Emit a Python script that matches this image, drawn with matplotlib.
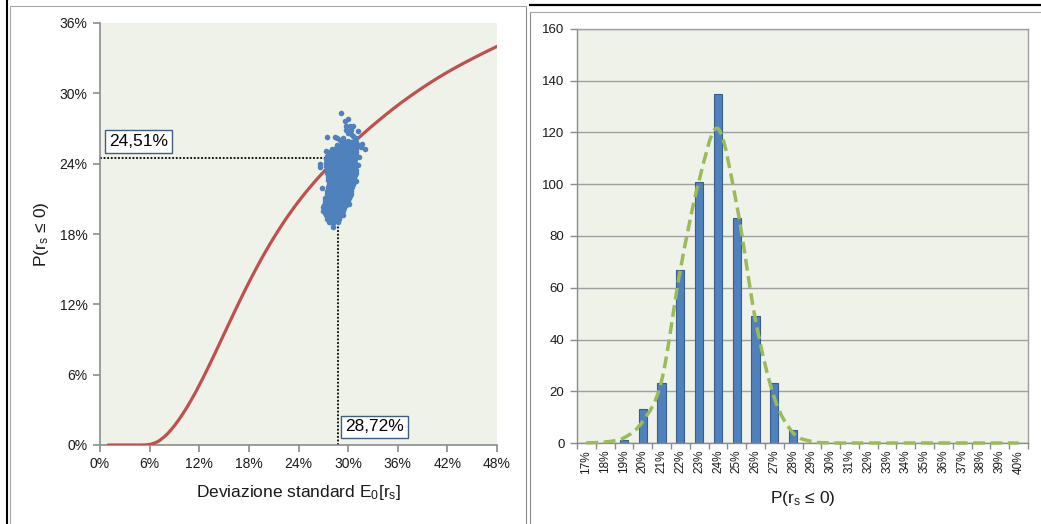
import matplotlib
matplotlib.use("Agg")
import matplotlib.pyplot as plt
from matplotlib.path import Path
from matplotlib.patches import PathPatch
from matplotlib.lines import Line2D
from matplotlib.ticker import FuncFormatter, MultipleLocator

plt.rcParams["font.family"] = ["Liberation Sans", "DejaVu Sans"]
plt.rcParams["mathtext.fontset"] = "custom"
plt.rcParams["mathtext.rm"] = "Liberation Sans"
plt.rcParams["mathtext.it"] = "Liberation Sans:italic"

# ---------------- data ----------------
# probability of a non-positive return vs. standard deviation (both in %)
sigma_pct = [1, 2, 3, 4, 5, 6, 7, 8, 9, 10, 11, 12, 13, 14, 15, 16, 17, 18, 19, 20,
             21, 22, 23, 24, 25, 26, 27, 28, 29, 30, 31, 32, 33, 34, 35, 36, 37, 38,
             39, 40, 41, 42, 43, 44, 45, 46, 47, 48]
prob_pct = [0.0, 0.0, 0.0, 0.0, 0.0, 0.05, 0.3, 0.85, 1.65, 2.65, 3.8, 5.1, 6.5, 7.97,
            9.47, 10.97, 12.44, 13.86, 15.21, 16.48, 17.67, 18.78, 19.81, 20.77,
            21.66, 22.49, 23.27, 24.0, 24.69, 25.37, 26.03, 26.66, 27.27, 27.86,
            28.43, 28.98, 29.5, 30.0, 30.48, 30.94, 31.38, 31.8, 32.2, 32.58, 32.95,
            33.31, 33.66, 34.0]

# simulated (sigma, probability) pairs, in %
cloud = [
    (29.2, 25.95), (29.6, 25.85), (30.0, 25.92), (30.35, 25.82), (30.7, 25.9), (31.0, 25.85),
    (28.7, 25.62), (29.1, 25.55), (29.45, 25.66), (29.8, 25.58), (30.15, 25.64), (30.5, 25.55),
    (30.85, 25.6), (31.2, 25.58),
    (28.1, 25.28), (28.5, 25.35), (28.85, 25.26), (29.2, 25.33), (29.55, 25.25), (29.9, 25.36),
    (30.25, 25.27), (30.6, 25.34), (31.0, 25.26),
    (27.7, 25.02), (28.05, 24.95), (28.4, 25.05), (28.75, 24.97), (29.1, 25.04), (29.45, 24.96),
    (29.8, 25.03), (30.15, 24.98), (30.5, 25.05), (30.9, 24.97),
    (27.5, 24.68), (27.85, 24.75), (28.2, 24.66), (28.55, 24.73), (28.9, 24.67), (29.25, 24.74),
    (29.6, 24.68), (29.95, 24.72), (30.3, 24.65), (30.65, 24.74), (30.95, 24.7),
    (27.3, 24.42), (27.65, 24.36), (28.0, 24.44), (28.35, 24.38), (28.7, 24.43), (29.05, 24.37),
    (29.4, 24.45), (29.75, 24.36), (30.1, 24.42), (30.45, 24.38), (30.85, 24.43),
    (27.35, 24.08), (27.7, 24.14), (28.05, 24.06), (28.4, 24.12), (28.75, 24.05), (29.1, 24.13),
    (29.45, 24.07), (29.8, 24.14), (30.15, 24.06), (30.5, 24.12), (30.85, 24.08),
    (27.3, 23.82), (27.65, 23.76), (28.0, 23.84), (28.35, 23.78), (28.7, 23.83), (29.05, 23.77),
    (29.4, 23.85), (29.75, 23.76), (30.1, 23.82), (30.45, 23.78), (30.85, 23.83),
    (27.4, 23.48), (27.75, 23.54), (28.1, 23.46), (28.45, 23.52), (28.8, 23.45), (29.15, 23.53),
    (29.5, 23.47), (29.85, 23.54), (30.2, 23.46), (30.55, 23.52), (30.9, 23.5),
    (27.5, 23.22), (27.85, 23.16), (28.2, 23.24), (28.55, 23.18), (28.9, 23.23), (29.25, 23.17),
    (29.6, 23.25), (29.95, 23.16), (30.3, 23.22), (30.75, 23.18),
    (27.6, 22.88), (27.95, 22.94), (28.3, 22.86), (28.65, 22.92), (29.0, 22.85), (29.35, 22.93),
    (29.7, 22.87), (30.05, 22.94), (30.4, 22.86), (30.7, 22.9),
    (27.6, 22.62), (27.95, 22.56), (28.3, 22.64), (28.65, 22.58), (29.0, 22.63), (29.35, 22.57),
    (29.7, 22.65), (30.05, 22.56), (30.4, 22.62), (30.7, 22.58),
    (27.65, 22.28), (28.0, 22.34), (28.35, 22.26), (28.7, 22.32), (29.05, 22.25), (29.4, 22.33),
    (29.75, 22.27), (30.1, 22.34), (30.55, 22.28),
    (27.6, 22.02), (27.95, 21.96), (28.3, 22.04), (28.65, 21.98), (29.0, 22.03), (29.35, 21.97),
    (29.7, 22.05), (30.05, 21.96), (30.5, 22.02),
    (27.5, 21.68), (27.85, 21.74), (28.2, 21.66), (28.55, 21.72), (28.9, 21.65), (29.25, 21.73),
    (29.6, 21.67), (29.95, 21.74), (30.4, 21.68),
    (27.4, 21.42), (27.75, 21.36), (28.1, 21.44), (28.45, 21.38), (28.8, 21.43), (29.15, 21.37),
    (29.5, 21.45), (29.85, 21.36), (30.3, 21.42),
    (27.25, 21.08), (27.6, 21.14), (27.95, 21.06), (28.3, 21.12), (28.65, 21.05), (29.0, 21.13),
    (29.35, 21.07), (29.7, 21.14), (30.15, 21.08),
    (27.15, 20.82), (27.5, 20.76), (27.85, 20.84), (28.2, 20.78), (28.55, 20.83), (28.9, 20.77),
    (29.25, 20.85), (29.6, 20.78), (29.95, 20.82),
    (27.05, 20.48), (27.4, 20.54), (27.75, 20.46), (28.1, 20.52), (28.45, 20.45), (28.8, 20.53),
    (29.15, 20.47), (29.5, 20.52), (29.8, 20.46),
    (27.1, 20.22), (27.45, 20.16), (27.8, 20.24), (28.15, 20.18), (28.5, 20.23), (28.85, 20.17),
    (29.2, 20.24), (29.55, 20.18),
    (27.15, 19.88), (27.6, 19.94), (28.0, 19.86), (28.4, 19.92), (28.95, 19.87), (29.35, 19.93),
    (27.3, 19.62), (27.75, 19.56), (28.3, 19.64), (28.9, 19.58), (29.25, 19.62),
    (27.5, 19.28), (27.95, 19.34), (28.55, 19.26), (28.95, 19.32),
    (27.7, 19.02), (28.15, 18.96), (28.75, 19.04),
    # scattered outer points
    (29.1, 28.3), (30.0, 27.8), (29.6, 27.6), (30.55, 27.2), (29.7, 27.2), (30.2, 27.2),
    (30.4, 26.9), (29.8, 26.9), (31.2, 26.8), (30.0, 26.6), (30.3, 26.55), (30.6, 26.4),
    (27.5, 26.3), (28.4, 26.3), (28.6, 26.2), (29.4, 26.2), (30.9, 26.2), (29.0, 26.0),
    (31.0, 25.7), (31.7, 25.7), (31.6, 25.45), (32.0, 25.25), (27.3, 25.1), (31.3, 24.6),
    (26.6, 24.0), (31.2, 23.9), (26.6, 23.7), (30.95, 23.2), (30.8, 23.0), (31.0, 22.5),
    (30.6, 22.3), (26.9, 21.9), (30.2, 21.2), (29.8, 20.6), (30.1, 20.6), (27.0, 20.3),
    (27.0, 20.0), (27.2, 19.8), (29.4, 19.6), (27.6, 19.3), (28.4, 19.2), (27.8, 19.05),
    (28.2, 18.6),
]
cloud_x = [p[0] for p in cloud]
cloud_y = [p[1] for p in cloud]

ref_sigma = 28.72
ref_prob = 24.51

# histogram of the simulated probabilities
bins = ["17%", "18%", "19%", "20%", "21%", "22%", "23%", "24%", "25%", "26%", "27%", "28%",
        "29%", "30%", "31%", "32%", "33%", "34%", "35%", "36%", "37%", "38%", "39%", "40%"]
counts = [0, 0, 1, 13, 23, 67, 101, 135, 87, 49, 23, 5,
          0, 0, 0, 0, 0, 0, 0, 0, 0, 0, 0, 0]
normal_fit = [0.05, 0.4, 2.0, 8.4, 24.0, 67.0, 101.5, 121.5, 92.0, 47.5, 17.5, 3.9,
              0.6, 0.05, 0, 0, 0, 0, 0, 0, 0, 0, 0, 0]

# ---------------- style ----------------
PLOT_BG = "#EEF2E8"
AXIS_GREY = "#8C8C8C"
TEXT = "#1a1a1a"
BLUE = "#4F81BD"
RED = "#C0504D"
GREEN = "#9BBB59"


def smooth_path(xs, ys):
    """Cubic Bezier path through the points (Catmull-Rom tangents)."""
    pts = list(zip(xs, ys))
    n = len(pts)
    verts = [pts[0]]
    codes = [Path.MOVETO]
    for i in range(n - 1):
        p0 = pts[max(i - 1, 0)]
        p1 = pts[i]
        p2 = pts[i + 1]
        p3 = pts[min(i + 2, n - 1)]
        c1 = (p1[0] + (p2[0] - p0[0]) / 6.0, p1[1] + (p2[1] - p0[1]) / 6.0)
        c2 = (p2[0] - (p3[0] - p1[0]) / 6.0, p2[1] - (p3[1] - p1[1]) / 6.0)
        verts += [c1, c2, p2]
        codes += [Path.CURVE4] * 3
    return Path(verts, codes)


W, H = 1041, 524
fig = plt.figure(figsize=(W / 100, H / 100), dpi=100)
fig.patch.set_facecolor("white")


def px_axes(x0, y0, x1, y1):
    return fig.add_axes([x0 / W, 1 - y1 / H, (x1 - x0) / W, (y1 - y0) / H])


def fig_line(xs, ys, color, lw):
    fig.add_artist(Line2D([x / W for x in xs], [1 - y / H for y in ys],
                          color=color, lw=lw, transform=fig.transFigure,
                          solid_capstyle="butt"))


# panel frames
fig_line([7, 7], [0, H], "black", 1.5)
fig_line([9.5, 9.5], [5.5, H], "#A6A6A6", 0.8)
fig_line([9.5, 525.5], [5.5, 5.5], "#A6A6A6", 0.8)
fig_line([525.5, 525.5], [5.5, H], "#8C8C8C", 0.8)
fig_line([529, W], [5, 5], "black", 1.6)
fig_line([529.5, W], [11.5, 11.5], "#A6A6A6", 0.8)
fig_line([529.5, 529.5], [11.5, H], "#8C8C8C", 0.8)

# ---------------- left panel ----------------
ax1 = px_axes(100, 23, 497, 445)
ax1.set_facecolor(PLOT_BG)
ax1.set_xlim(0, 48)
ax1.set_ylim(0, 36)
for side in ("top", "right"):
    ax1.spines[side].set_visible(False)
for side in ("left", "bottom"):
    ax1.spines[side].set_color(AXIS_GREY)
    ax1.spines[side].set_linewidth(1.2)
ax1.xaxis.set_major_locator(MultipleLocator(6))
ax1.yaxis.set_major_locator(MultipleLocator(6))
pct = FuncFormatter(lambda v, _: f"{v:.0f}%")
ax1.xaxis.set_major_formatter(pct)
ax1.yaxis.set_major_formatter(pct)
ax1.tick_params(direction="out", length=5, width=1.2, color=AXIS_GREY,
                labelsize=10, labelcolor=TEXT, pad=4)

ax1.add_patch(PathPatch(smooth_path(sigma_pct, prob_pct), fill=False,
                        edgecolor=RED, lw=2.3, zorder=3, capstyle="round"))
ax1.plot([0, ref_sigma], [ref_prob, ref_prob], color="black", lw=1.3,
         ls=(0, (1, 1)), zorder=2)
ax1.plot([ref_sigma, ref_sigma], [0, ref_prob], color="black", lw=1.3,
         ls=(0, (1, 1)), zorder=2)
ax1.scatter(cloud_x, cloud_y, s=16, color=BLUE, linewidths=0, zorder=4)

box = dict(boxstyle="square,pad=0.22", fc="white", ec="#3F5F80", lw=1.0)
ax1.text(4.65, 25.9, "24,51%", ha="center", va="center", fontsize=12.5,
         color="black", bbox=box, zorder=5)
ax1.text(33.2, 1.55, "28,72%", ha="center", va="center", fontsize=12.5,
         color="black", bbox=box, zorder=5)

ax1.set_xlabel(r"Deviazione standard E$_\mathregular{0}$[r$_\mathregular{s}$]",
               fontsize=12.5, color=TEXT, labelpad=8)
ax1.set_ylabel(r"P(r$_\mathregular{s}$ ≤ 0)", fontsize=12.5, color=TEXT, labelpad=6)

# ---------------- right panel ----------------
ax2 = px_axes(577, 29, 1028, 443)
ax2.set_facecolor(PLOT_BG)
idx = list(range(len(bins)))
ax2.set_xlim(-0.5, len(bins) - 0.5)
ax2.set_ylim(0, 160)
ax2.yaxis.set_major_locator(MultipleLocator(20))
ax2.grid(axis="y", color="#A0A0A0", lw=1.0)
ax2.set_axisbelow(True)
for side in ax2.spines.values():
    side.set_color("#A0A0A0")
    side.set_linewidth(1.0)
ax2.spines["left"].set_color(AXIS_GREY)
ax2.spines["bottom"].set_color(AXIS_GREY)

ax2.bar(idx, counts, width=0.44, color=BLUE, edgecolor="#385D8A", lw=0.8, zorder=2)
ax2.add_patch(PathPatch(smooth_path(idx, normal_fit), fill=False, edgecolor=GREEN,
                        lw=2.5, ls=(0, (3.4, 1.6)), zorder=3, clip_on=False,
                        capstyle="butt"))

ax2.set_xticks([i - 0.5 for i in idx] + [len(bins) - 0.5])
ax2.set_xticklabels([])
ax2.set_xticks(idx, minor=True)
ax2.set_xticklabels(bins, minor=True, rotation=90)
ax2.tick_params(axis="x", which="major", direction="out", length=4, width=1.0,
                color=AXIS_GREY)
ax2.tick_params(axis="x", which="minor", length=0, labelsize=8.5,
                labelcolor=TEXT, pad=5)
ax2.tick_params(axis="y", direction="out", length=5, width=1.0, color=AXIS_GREY,
                labelsize=9.5, labelcolor=TEXT, pad=4)
ax2.set_xlabel(r"P(r$_\mathregular{s}$ ≤ 0)", fontsize=12.5, color=TEXT, labelpad=11)

fig.savefig("out.png", dpi=100, facecolor="white")
